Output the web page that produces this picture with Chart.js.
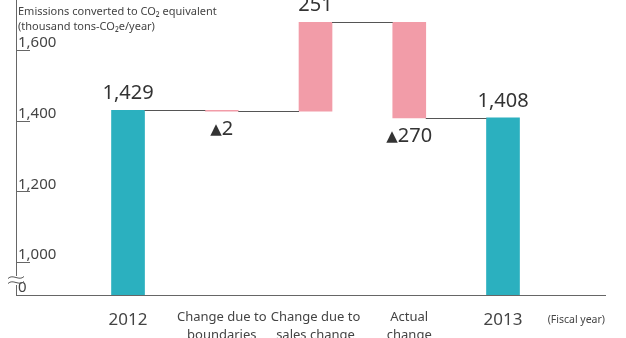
<!DOCTYPE html>
<html>
<head>
<meta charset="utf-8">
<script src="https://cdn.jsdelivr.net/npm/chart.js@4"></script>
<style>
  html, body { margin: 0; padding: 0; background: #fff; }
  #wrap { width: 626px; height: 338px; position: relative; }
</style>
</head>
<body>
<div id="wrap"><canvas id="waterfall"></canvas></div>
<script>
// chart values
const categories = [['2012'], ['Change due to', 'boundaries'], ['Change due to', 'sales change'], ['Actual', 'change'], ['2013']];
const startTotal = 1429;
const changes = [-2, 251, -270];
const endTotal = 1408;
const yTicks = [1000, 1200, 1400, 1600];
const yBreakLabel = '0';
const yAxisTitle = ['Emissions converted to CO\u2082 equivalent', '(thousand tons-CO\u2082e/year)'];
const xAxisUnit = '(Fiscal year)';

const TEAL = '#2bb0bf';
const PINK = '#f29ca8';
const FONT = "'Noto Sans', 'DejaVu Sans', sans-serif";

// build floating bars for the waterfall
var levels = [startTotal];
var bars = [{ x: 0, y: startTotal }];
var colors = [TEAL];
var labels = [startTotal.toLocaleString('en-US')];
changes.forEach(function (c, i) {
    var prev = levels[levels.length - 1];
    var next = prev + c;
    levels.push(next);
    bars.push({ x: i + 1, y: [prev, next] });
    colors.push(PINK);
    labels.push(c < 0 ? '\u25B2' + Math.abs(c) : String(c));
});
bars.push({ x: categories.length - 1, y: endTotal });
colors.push(TEAL);
labels.push(endTotal.toLocaleString('en-US'));

var yMin = 906.6, yMax = 1741.5;

var decor = {
    id: 'decor',
    afterDraw: function (chart) {
        var ctx = chart.ctx, area = chart.chartArea, ys = chart.scales.y;
        var meta = chart.getDatasetMeta(0);
        ctx.save();

        // inward tick marks
        ctx.strokeStyle = '#666';
        ctx.lineWidth = 1;
        yTicks.forEach(function (v) {
            var py = Math.round(ys.getPixelForValue(v)) + 0.5;
            ctx.beginPath();
            ctx.moveTo(area.left, py);
            ctx.lineTo(area.left + 14, py);
            ctx.stroke();
        });

        // connectors between bars
        ctx.strokeStyle = '#555';
        for (var i = 0; i < meta.data.length - 1; i++) {
            var a = meta.data[i], b = meta.data[i + 1];
            var lvl = i < levels.length ? levels[i] : endTotal;
            var py = Math.round(ys.getPixelForValue(lvl)) + 0.5;
            ctx.beginPath();
            ctx.moveTo(a.x + a.width / 2, py);
            ctx.lineTo(b.x - b.width / 2, py);
            ctx.stroke();
        }

        // value labels
        ctx.fillStyle = '#333';
        ctx.textAlign = 'center';
        ctx.textBaseline = 'alphabetic';
        meta.data.forEach(function (el, i) {
            var neg = i > 0 && i <= changes.length && changes[i - 1] < 0;
            var top = Math.min(el.y, el.base), bottom = Math.max(el.y, el.base);
            if (neg) {
                var num = labels[i].slice(1);
                ctx.font = '20px ' + FONT;
                var wn = ctx.measureText(num).width;
                ctx.font = '15px ' + FONT;
                var wt = ctx.measureText('\u25B2').width;
                var x0 = el.x - (wn + wt) / 2;
                ctx.textAlign = 'left';
                ctx.fillText('\u25B2', x0, bottom + 23);
                ctx.font = '20px ' + FONT;
                ctx.fillText(num, x0 + wt, bottom + 24);
                ctx.textAlign = 'center';
            } else {
                ctx.font = '20px ' + FONT;
                ctx.fillText(labels[i], el.x, top - 11);
            }
        });

        // y axis title
        ctx.fillStyle = '#444';
        ctx.font = '11px ' + FONT;
        ctx.textAlign = 'left';
        ctx.textBaseline = 'middle';
        ctx.fillText(yAxisTitle[0], area.left + 2, 12);
        ctx.fillText(yAxisTitle[1], area.left + 2, 27);

        // x axis unit
        ctx.font = '10.5px ' + FONT;
        ctx.textAlign = 'right';
        ctx.fillText(xAxisUnit, area.right, 320);

        // axis break mark
        ctx.fillStyle = '#fff';
        ctx.fillRect(area.left - 1, area.bottom - 19, 3, 9);
        ctx.strokeStyle = '#555';
        [-2.5, 2.5].forEach(function (d) {
            var cy = area.bottom - 15 + d;
            ctx.beginPath();
            ctx.moveTo(area.left - 8, cy + 1);
            ctx.bezierCurveTo(area.left - 3, cy - 4, area.left + 3, cy + 4, area.left + 8, cy - 1);
            ctx.stroke();
        });
        ctx.restore();
    }
};

var ctx = document.getElementById('waterfall').getContext('2d');
var chart = new Chart(ctx, {
    type: 'bar',
    data: {
        datasets: [{
            data: bars,
            backgroundColor: colors,
            borderWidth: 0,
            barThickness: 33
        }]
    },
    options: {
        responsive: true,
        maintainAspectRatio: false,
        animation: false,
        layout: { padding: { top: 0, left: 0, right: 21, bottom: 0 } },
        plugins: { legend: { display: false }, tooltip: { enabled: false } },
        scales: {
            x: {
                type: 'linear',
                offset: false,
                min: -1.195,
                max: 5.088,
                afterBuildTicks: function (scale) {
                    scale.ticks = categories.map(function (c, i) { return { value: i }; });
                },
                afterFit: function (scale) {
                    scale.height = 43;
                    scale.paddingLeft = 0;
                    scale.paddingRight = 0;
                },
                grid: { drawOnChartArea: false, drawTicks: false },
                border: { display: true, color: '#666', width: 1 },
                ticks: {
                    autoSkip: false,
                    maxRotation: 0,
                    padding: 14,
                    color: '#444',
                    font: function (c) {
                        var i = c.index;
                        var year = i === 0 || i === categories.length - 1;
                        return { family: FONT, size: year ? 17 : 13, lineHeight: 1.35 };
                    },
                    callback: function (v) { return categories[v]; }
                }
            },
            y: {
                min: yMin,
                max: yMax,
                afterBuildTicks: function (scale) {
                    scale.ticks = [{ value: yMin }].concat(yTicks.map(function (v) { return { value: v }; }));
                },
                afterFit: function (scale) {
                    scale.width = 16;
                    scale.paddingTop = 0;
                    scale.paddingBottom = 0;
                },
                grid: { drawOnChartArea: false, drawTicks: false },
                border: { display: true, color: '#666', width: 1 },
                ticks: {
                    mirror: true,
                    padding: 2,
                    labelOffset: -7,
                    color: '#444',
                    font: { family: FONT, size: 15 },
                    callback: function (v) {
                        return v === yMin ? yBreakLabel : v.toLocaleString('en-US');
                    }
                }
            }
        }
    },
    plugins: [decor]
});
</script>
</body>
</html>
